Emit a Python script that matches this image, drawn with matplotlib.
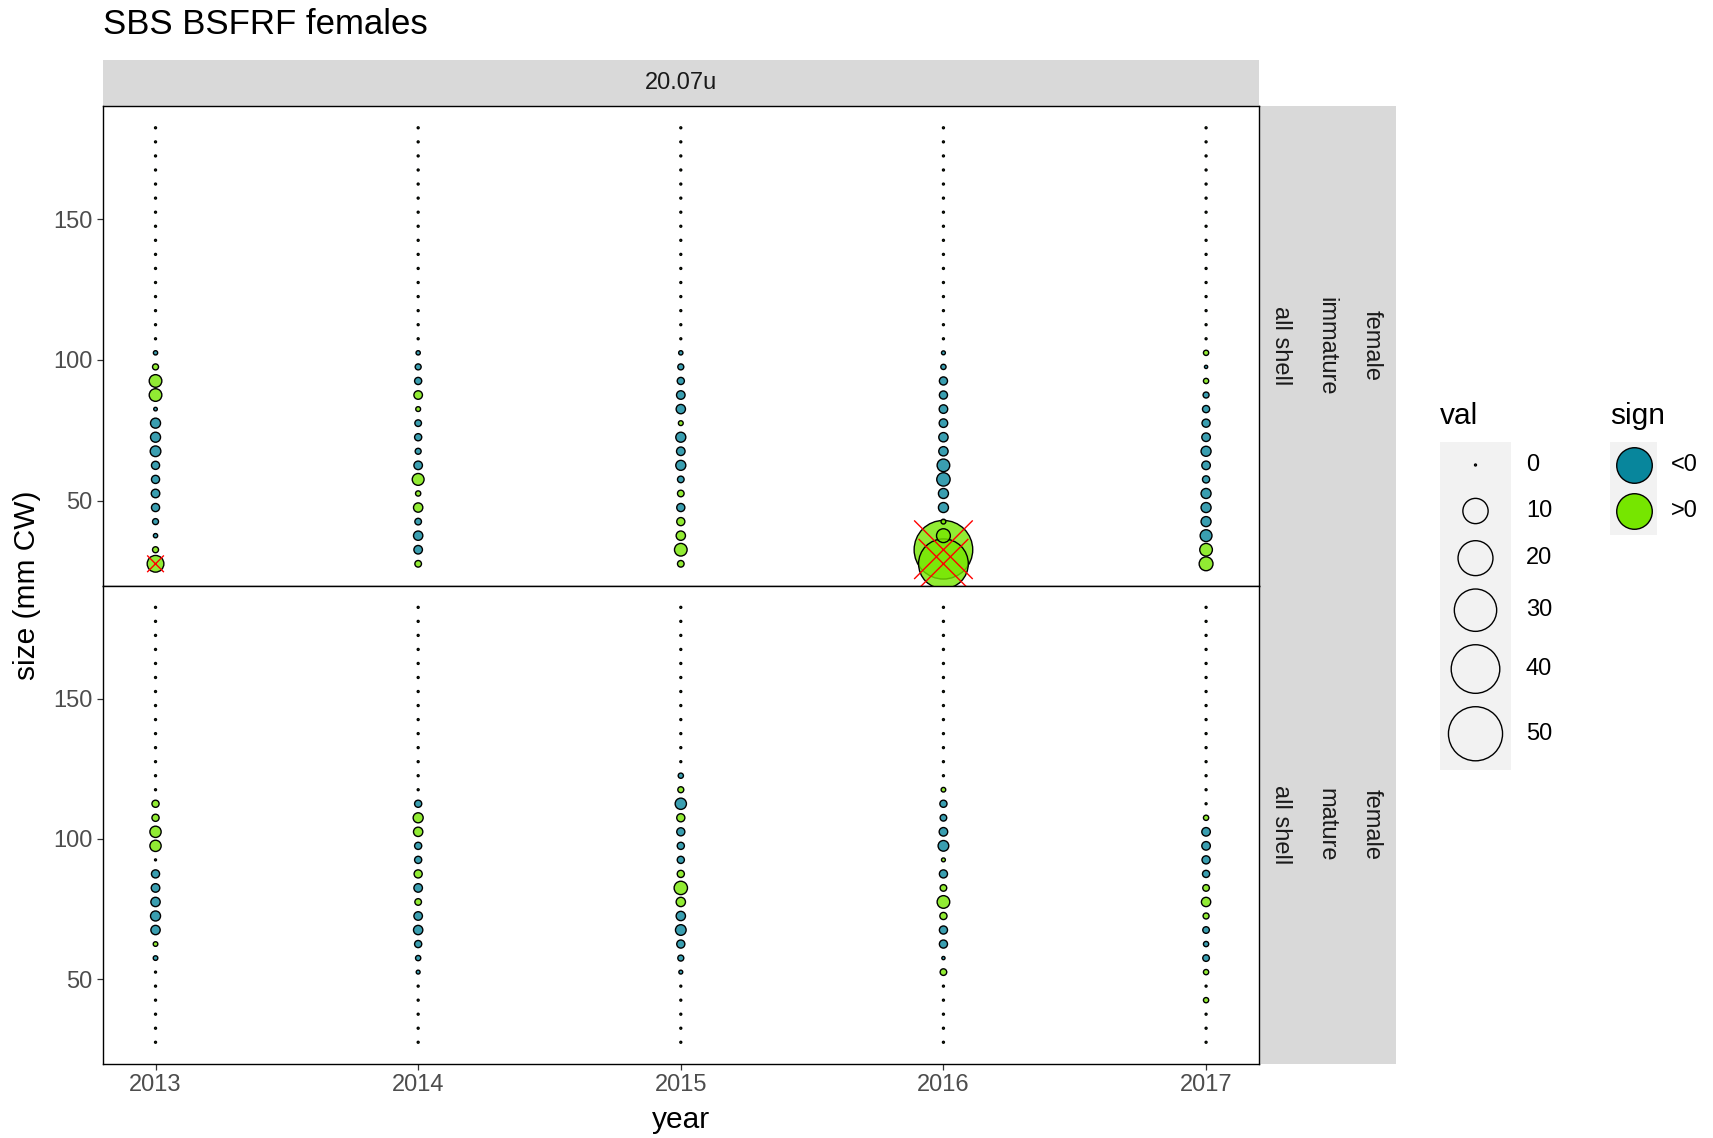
import numpy as np
import matplotlib.pyplot as plt
from matplotlib.patches import Rectangle

plt.rcParams['font.family'] = ['Liberation Sans', 'DejaVu Sans']

# size bins (mm CW), 27.5 .. 182.5
sizes = [27.5, 32.5, 37.5, 42.5, 47.5, 52.5, 57.5, 62.5, 67.5, 72.5, 77.5,
         82.5, 87.5, 92.5, 97.5, 102.5, 107.5, 112.5, 117.5, 122.5, 127.5,
         132.5, 137.5, 142.5, 147.5, 152.5, 157.5, 162.5, 167.5, 172.5,
         177.5, 182.5]
years = [2013, 2014, 2015, 2016, 2017]

# residuals, immature females (negative = <0)
imm_2013 = [4.0, 0.3, -0.1, -0.3, -0.7, -0.8, -0.7, -0.7, -1.4, -1.2, -1.2, -0.05,
            2.1, 2.1, 0.3, -0.1, 0, 0, 0, 0, 0, 0, 0, 0, 0, 0, 0, 0, 0, 0, 0, 0]
imm_2014 = [0.4, -0.8, -1.0, -0.4, 1.0, 0.2, 1.8, -0.8, -0.3, -0.5, -0.4, 0.15,
            0.8, -0.5, -0.3, -0.1, 0, 0, 0, 0, 0, 0, 0, 0, 0, 0, 0, 0, 0, 0, 0, 0]
imm_2015 = [0.4, 2.1, 1.0, 0.7, -0.7, 0.4, -0.4, -1.2, -0.8, -1.2, 0.15, -1.0,
            -0.8, -0.5, -0.3, -0.1, 0, 0, 0, 0, 0, 0, 0, 0, 0, 0, 0, 0, 0, 0, 0, 0]
imm_2016 = [42.0, 59.0, 2.6, 0.15, -1.2, -1.2, -2.4, -2.1, -1.0, -1.0, -0.8, -0.8,
            -0.7, -0.7, -0.2, -0.07, 0, 0, 0, 0, 0, 0, 0, 0, 0, 0, 0, 0, 0, 0, 0, 0]
imm_2017 = [2.6, 2.1, -1.8, -1.2, -1.2, -1.2, -0.5, -0.8, -1.2, -0.8, -0.7, -0.5,
            -0.3, 0.2, -0.03, 0.2, 0, 0, 0, 0, 0, 0, 0, 0, 0, 0, 0, 0, 0, 0, 0, 0]

# residuals, mature females
mat_2013 = [0, 0, 0, 0, 0, 0, -0.13, 0.13, -1.0, -1.2, -1.0, -0.8, -0.7, 0,
            1.6, 1.6, 0.5, 0.5, 0, 0, 0, 0, 0, 0, 0, 0, 0, 0, 0, 0, 0, 0]
mat_2014 = [0, 0, 0, 0, 0, -0.07, -0.2, -0.5, -1.0, -0.8, 0.4, -0.8, 0.7, -0.5,
            -0.5, 1.0, 1.2, -0.5, 0, 0, 0, 0, 0, 0, 0, 0, 0, 0, 0, 0, 0, 0]
mat_2015 = [0, 0, 0, 0, 0, -0.07, -0.3, -0.7, -1.4, -1.0, 1.0, 2.4, 0.5, -0.5,
            -0.5, -0.7, 0.7, -1.6, 0.3, -0.2, 0, 0, 0, 0, 0, 0, 0, 0, 0, 0, 0, 0]
mat_2016 = [0, 0, 0, 0, 0, 0.4, -0.03, -0.7, -0.7, 0.5, 2.1, 0.4, -0.7, 0.07,
            -1.4, -0.8, -0.4, -0.5, 0.13, 0, 0, 0, 0, 0, 0, 0, 0, 0, 0, 0, 0, 0]
mat_2017 = [0, 0, 0, 0.2, 0, 0.2, -0.4, -0.2, -0.4, 0.3, 1.0, 0.4, -0.5, -0.7,
            -0.8, -0.8, 0.2, 0, 0, 0, 0, 0, 0, 0, 0, 0, 0, 0, 0, 0, 0, 0]

immature = [imm_2013, imm_2014, imm_2015, imm_2016, imm_2017]
mature = [mat_2013, mat_2014, mat_2015, mat_2016, mat_2017]

val_breaks = [0, 10, 20, 30, 40, 50]

BLUE = "#08869C"
GREEN = "#76E600"

SMALL = 17     # tick / strip / legend text
MID = 21.5     # axis + legend titles
BIG = 25       # plot title

W, H = 1713, 1138
fig = plt.figure(figsize=(W / 100, H / 100), dpi=100)


def box(x0, y0, x1, y1):
    # pixel box (top-left origin) -> figure fraction
    return [x0 / W, 1 - y1 / H, (x1 - x0) / W, (y1 - y0) / H]


def msize(v):
    # marker diameter in points, area scaled
    return 1.4 + 5.31 * np.sqrt(np.abs(v))


def draw_panel(ax, data):
    xs, ys, vs = [], [], []
    for yr, col in zip(years, data):
        for sz, v in zip(sizes, col):
            xs.append(yr)
            ys.append(sz)
            vs.append(v)
    xs, ys, vs = np.array(xs), np.array(ys), np.array(vs)
    order = np.argsort(-np.abs(vs), kind='stable')
    xs, ys, vs = xs[order], ys[order], vs[order]
    fc = [(*plt.matplotlib.colors.to_rgb(BLUE if v < 0 else GREEN), 0.8) for v in vs]
    ax.scatter(xs, ys, s=msize(vs) ** 2, c=fc, edgecolors='black',
               linewidths=1.0, zorder=3)
    big = np.abs(vs) > 3
    ax.scatter(xs[big], ys[big], s=msize(vs[big]) ** 2, marker='x',
               c='red', linewidths=1.0, zorder=4)
    ax.set_xlim(2012.8, 2017.2)
    ax.set_ylim(19.75, 190.25)
    ax.set_yticks([50, 100, 150])
    ax.set_xticks(years)
    ax.tick_params(length=4.5, width=0.9, color='#333333', labelcolor='#4D4D4D',
                   labelsize=SMALL, pad=3)
    for sp in ax.spines.values():
        sp.set_linewidth(1.0)
        sp.set_color('black')


ax_top = fig.add_axes(box(103, 106, 1258.6, 585.6))
ax_bot = fig.add_axes(box(103, 585.6, 1258.6, 1064))
draw_panel(ax_top, immature)
draw_panel(ax_bot, mature)
ax_top.tick_params(axis='x', bottom=False, labelbottom=False)

# overlay for strips and legends
ov = fig.add_axes([0, 0, 1, 1], zorder=-1)
ov.set_xlim(0, W)
ov.set_ylim(H, 0)
ov.axis('off')

ov.add_patch(Rectangle((103, 60), 1155.6, 46, color='#D9D9D9', lw=0))
ov.text(680.8, 83, '20.07u', ha='center', va='center', fontsize=SMALL, color='#1A1A1A')
ov.add_patch(Rectangle((1258.6, 106), 137.4, 958, color='#D9D9D9', lw=0))
for yc, labs in [(345.8, ['all shell', 'immature', 'female']),
                 (824.8, ['all shell', 'mature', 'female'])]:
    for xc, lab in zip([1281, 1326, 1372], labs):
        ov.text(xc, yc, lab, rotation=270, ha='center', va='center',
                fontsize=SMALL, color='#1A1A1A')

fig.text(103 / W, 1 - 24 / H, 'SBS BSFRF females', fontsize=BIG, ha='left', va='center')
fig.text(27 / W, 1 - 585 / H, 'size (mm CW)', rotation=90, fontsize=MID,
         ha='center', va='center')
fig.text(680.8 / W, 1 - 1120 / H, 'year', fontsize=MID, ha='center', va='center')

# val legend
ov.text(1440, 416, 'val', fontsize=MID, ha='left', va='center')
ov.add_patch(Rectangle((1440, 442), 71, 328, color='#F2F2F2', lw=0))
ytop = 442
for b in val_breaks:
    d_px = (msize(b) + 1.0) / 0.72
    h = max(46, d_px + 12)
    yc = ytop + h / 2
    ov.scatter([1475.5], [yc], s=msize(b) ** 2, facecolors='none',
               edgecolors='black', linewidths=1.0, zorder=3)
    ov.text(1526, yc, str(b), fontsize=SMALL, ha='left', va='center')
    ytop += h

# sign legend
ov.text(1610, 416, 'sign', fontsize=MID, ha='left', va='center')
ov.add_patch(Rectangle((1610, 442), 47, 93, color='#F2F2F2', lw=0))
for i, (lab, col) in enumerate([('<0', BLUE), ('>0', GREEN)]):
    yc = 442 + 23 + 46 * i
    ov.scatter([1633.5], [yc], s=25.6 ** 2, c=col, edgecolors='black',
               linewidths=1.0, zorder=3)
    ov.text(1671, yc, lab, fontsize=SMALL, ha='left', va='center')

fig.savefig('out.png', dpi=100)
